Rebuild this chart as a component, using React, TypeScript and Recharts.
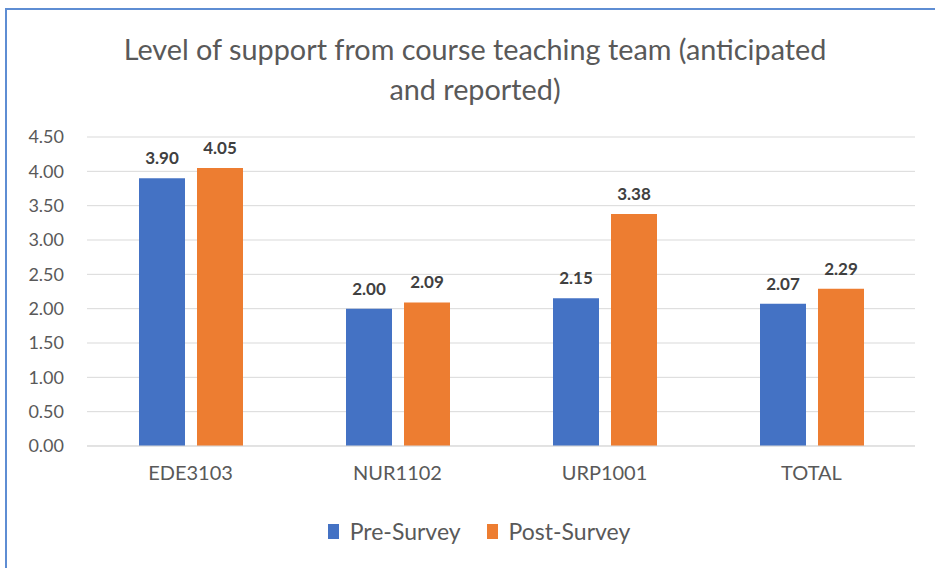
import React from "react";
import { BarChart, Bar, XAxis, YAxis, CartesianGrid, Legend, LabelList } from "recharts";

const categories = ["EDE3103", "NUR1102", "URP1001", "TOTAL"];
const preSurvey = [3.9, 2.0, 2.15, 2.07];
const postSurvey = [4.05, 2.09, 3.38, 2.29];
const yTicks = [0, 0.5, 1, 1.5, 2, 2.5, 3, 3.5, 4, 4.5];
const seriesNames = ["Pre-Survey", "Post-Survey"];
const seriesColors = ["#4472C4", "#ED7D31"];

const data = categories.map((c, i) => ({ name: c, pre: preSurvey[i], post: postSurvey[i] }));

const FONT = "Lato, 'Liberation Sans', sans-serif";

const renderLegend = () => (
  <div style={{ display: "flex", justifyContent: "center", alignItems: "center", fontFamily: FONT, fontSize: 23, color: "#595959", height: 26, paddingLeft: 23 }}>
    {seriesNames.map((n, i) => (
      <div key={n} style={{ display: "flex", alignItems: "center", marginLeft: i === 0 ? 0 : 26 }}>
        <div style={{ width: 11, height: 15, background: seriesColors[i], marginRight: 11 }} />
        <span>{n}</span>
      </div>
    ))}
  </div>
);

export default function App() {
  return (
    <div style={{ position: "absolute", left: 0, top: 0, width: 935, height: 568, background: "#fff", overflow: "hidden", fontFamily: FONT }}>
      <div style={{ position: "absolute", left: 5, top: 8, width: 1000, height: 700, borderLeft: "2px solid #5E8DD3", borderTop: "2px solid #5E8DD3" }} />
      <div style={{ position: "absolute", left: 0, top: 29, width: 950, textAlign: "center", fontSize: 28.8, lineHeight: "40px", color: "#595959" }}>
        Level of support from course teaching team (anticipated<br />and reported)
      </div>
      <div style={{ position: "absolute", left: 0, top: 0 }}>
        <BarChart width={935} height={568} data={data} margin={{ top: 137, right: 20, bottom: 56, left: 0 }} barGap={12} barSize={46}>
          <CartesianGrid vertical={false} stroke="#D9D9D9" />
          <XAxis dataKey="name" tickLine={false} axisLine={{ stroke: "#D9D9D9" }} tick={{ fill: "#595959", fontSize: 20, fontFamily: FONT }} tickMargin={14} height={40} />
          <YAxis domain={[0, 4.5]} ticks={yTicks} tickFormatter={(v: number) => v.toFixed(2)} tickLine={false} axisLine={false} width={87} tick={{ fill: "#595959", fontSize: 18, fontFamily: FONT }} dx={-15} interval={0} />
          <Legend verticalAlign="bottom" content={renderLegend} wrapperStyle={{ top: 518, bottom: "auto", left: 0, width: 935 }} />
          <Bar dataKey="pre" name={seriesNames[0]} fill={seriesColors[0]} isAnimationActive={false}>
            <LabelList dataKey="pre" position="top" offset={14} formatter={(v: number) => v.toFixed(2)} style={{ fill: "#404040", fontSize: 17, fontWeight: 700, fontFamily: FONT }} />
          </Bar>
          <Bar dataKey="post" name={seriesNames[1]} fill={seriesColors[1]} isAnimationActive={false}>
            <LabelList dataKey="post" position="top" offset={14} formatter={(v: number) => v.toFixed(2)} style={{ fill: "#404040", fontSize: 17, fontWeight: 700, fontFamily: FONT }} />
          </Bar>
        </BarChart>
      </div>
    </div>
  );
}
